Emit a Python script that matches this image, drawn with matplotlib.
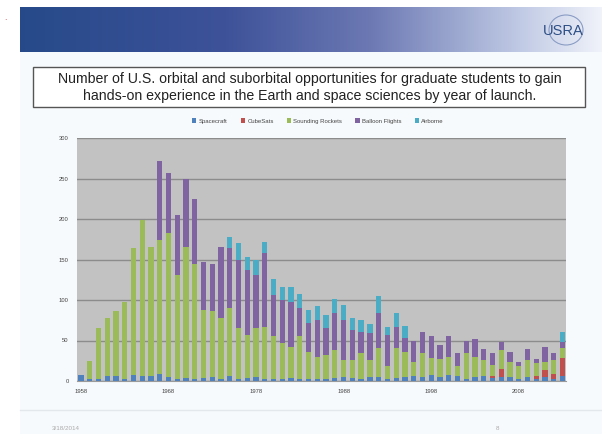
import numpy as np
import matplotlib
matplotlib.use("Agg")
import matplotlib.pyplot as plt
from matplotlib.patches import Rectangle, Ellipse

plt.rcParams['font.family'] = ['Liberation Sans', 'DejaVu Sans']

years = list(range(1958, 2014))
tick_years = [1958, 1968, 1978, 1988, 1998, 2008]
series_names = ["Spacecraft", "CubeSats", "Sounding Rockets", "Balloon Flights", "Airborne"]

spacecraft = [8, 3, 3, 6, 6, 3, 8, 6, 6, 9, 5, 3, 4, 3, 4, 5, 3, 6, 3, 4,
              5, 3, 3, 2, 4, 3, 3, 3, 3, 4, 5, 4, 3, 5, 5, 3, 4, 5, 6, 5,
              7, 5, 8, 6, 3, 5, 6, 4, 5, 5, 3, 5, 2, 5, 3, 6]
cubesats = [0] * 47 + [2, 10, 0, 0, 0, 4, 9, 6, 22]
sounding = [0, 22, 62, 72, 80, 95, 156, 193, 160, 165, 178, 128, 162, 142, 84, 81, 75, 84, 62, 53,
            60, 64, 52, 45, 38, 52, 33, 27, 29, 34, 21, 22, 31, 21, 36, 15, 37, 31, 18, 29,
            21, 22, 22, 12, 31, 25, 20, 14, 23, 19, 15, 21, 16, 10, 17, 13]
balloon = [0, 0, 0, 0, 0, 0, 0, 0, 0, 97, 74, 74, 84, 80, 59, 59, 88, 74, 84, 80,
           66, 91, 51, 53, 56, 35, 35, 45, 33, 46, 49, 37, 27, 33, 43, 39, 26, 17, 26, 27,
           27, 17, 25, 16, 16, 22, 14, 14, 10, 12, 6, 14, 5, 18, 8, 7]
airborne = [0] * 17 + [14, 21, 16, 18, 13, 20, 16, 18, 18, 17, 18, 16, 17, 19, 15, 14, 11, 21, 10,
                       17, 15] + [0] * 17 + [13]

colors = ["#4F81BD", "#C0504D", "#9BBB59", "#8064A2", "#4BACC6"]

W, H = 602, 434
fig = plt.figure(figsize=(W / 100, H / 100), dpi=100)
fig.patch.set_facecolor("white")

def fx(x):
    return x / W

def fy(y):
    return 1 - y / H

# slide background
fig.add_artist(Rectangle((fx(20), 0), fx(582), fy(52), transform=fig.transFigure,
                         facecolor="#f7fafc", edgecolor="none", zorder=0))

# header gradient
hax = fig.add_axes([fx(20), fy(52), fx(582), 45 / H])
t = np.linspace(0, 1, 300)
stops = [0.0, 0.35, 0.6, 0.85, 1.0]
cols = np.array([[0.15, 0.29, 0.54], [0.24, 0.32, 0.60], [0.42, 0.47, 0.70],
                 [0.74, 0.78, 0.89], [0.94, 0.95, 0.98]])
grad = np.stack([np.interp(t, stops, cols[:, c]) for c in range(3)], axis=-1)[None, :, :]
hax.imshow(grad, aspect="auto", extent=[0, 1, 0, 1])
hax.set_axis_off()
# USRA logo
fig.text(fx(563), fy(31), "USRA", ha="center", va="center", fontsize=10.5,
         color="#2d4f86")
fig.add_artist(Ellipse((fx(566), fy(30)), fx(34), 30 / H, transform=fig.transFigure,
                       facecolor="none", edgecolor="#8a9cc4", lw=0.8))

# tiny red mark at left
fig.text(fx(6), fy(18), "ˎ", color="#d04040", fontsize=6, ha="center", va="center")

# title box
fig.add_artist(Rectangle((fx(33), fy(107)), fx(552), 40 / H, transform=fig.transFigure,
                         facecolor="white", edgecolor="#555555", lw=1.0))
fig.text(fx(310), fy(79), "Number of U.S. orbital and suborbital opportunities for graduate students to gain",
         ha="center", va="center", fontsize=10.2, color="#222222")
fig.text(fx(310), fy(96), "hands-on experience in the Earth and space sciences by year of launch.",
         ha="center", va="center", fontsize=10.2, color="#222222")

# chart
ax = fig.add_axes([fx(77), fy(381), fx(489), 243 / H])
ax.set_facecolor("#c2c2c2")
x = np.arange(len(years))
data = [spacecraft, cubesats, sounding, balloon, airborne]
bottom = np.zeros(len(years))
handles = []
for name, vals, c in zip(series_names, data, colors):
    vals = np.array(vals, dtype=float)
    b = ax.bar(x, vals, bottom=bottom, width=0.6, color=c, label=name, zorder=3, linewidth=0)
    handles.append(b)
    bottom += vals

ax.set_xlim(-0.45, len(years) - 0.6)
ax.set_ylim(0, 300)
ax.set_yticks(range(0, 301, 50))
ax.yaxis.grid(True, color="#8c8c8c", lw=1.0, zorder=1)
ax.set_axisbelow(True)
ax.set_xticks([years.index(y) for y in tick_years])
ax.set_xticklabels([str(y) for y in tick_years])
ax.tick_params(axis="both", labelsize=4.2, colors="#444444", length=0, pad=6)
for s in ["top", "right", "left"]:
    ax.spines[s].set_visible(False)
ax.spines["bottom"].set_color("#9a9a9a")

fig.legend(handles=handles, labels=series_names, loc="center", ncol=5,
           bbox_to_anchor=(fx(318), fy(121)), fontsize=4.3, frameon=False,
           handlelength=0.7, handleheight=0.7, columnspacing=2.2, handletextpad=0.4,
           labelcolor="#444444")

# footer
fig.add_artist(plt.Line2D([fx(20), 1], [fy(410), fy(410)], transform=fig.transFigure,
                          color="#e3e8ec", lw=1.0))
fig.text(fx(52), fy(429), "3/18/2014", fontsize=4.5, color="#aaaaaa", va="center", ha="left")
fig.text(fx(497), fy(429), "8", fontsize=4.5, color="#aaaaaa", va="center", ha="center")

fig.savefig("out.png", dpi=100)
